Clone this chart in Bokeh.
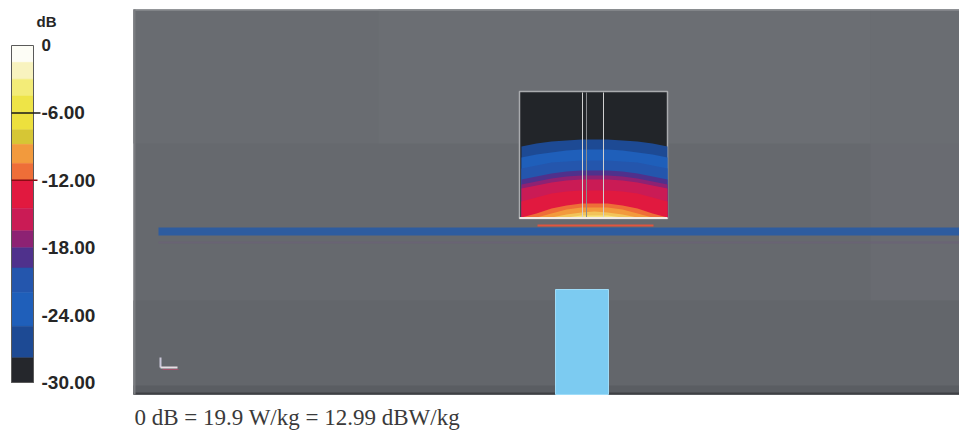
from bokeh.plotting import figure
from bokeh.models import Range1d
from bokeh.embed import file_html
from bokeh.resources import INLINE
from bokeh.core.properties import value

# ---------------- data ----------------
# colour scale in dB
cbar_ticks = [0, -6, -12, -18, -24, -30]
cbar_tick_labels = ["0", "-6.00", "-12.00", "-18.00", "-24.00", "-30.00"]
band_top = [0, -1.5, -3, -4.5, -6, -7.5, -8.8, -10.5, -12, -14.5, -16.5, -18, -19.8, -22, -25, -27.8]
band_bottom = [-1.5, -3, -4.5, -6, -7.5, -8.8, -10.5, -12, -14.5, -16.5, -18, -19.8, -22, -25, -27.8, -30]
band_color = ["#fdfdf6", "#f8f3bf", "#f3ec78", "#eee447", "#ede03d", "#d6c635",
              "#f29a3d", "#ee6e38", "#e1193f", "#ca1b55", "#8d2273", "#4f318c",
              "#2456ad", "#1f5fba", "#1d4a94", "#25272c"]
marked_levels = [-6, -12]
marked_colors = ["#1a1a1a", "#8a0c14"]

# SAR field in the phantom window: y (pixel rows) of each iso-dB contour
field_x = [521, 536, 551, 566, 581, 594, 607, 622, 637, 652, 667]
field_levels = [-27.8, -25, -22, -19.8, -18, -16.5, -14.5, -12, -10.5, -8.8, -6]
field_contours = [
    [146, 143, 141, 140, 139, 139, 139, 140, 141, 143, 146],
    [157, 154, 152, 150, 149, 149, 149, 150, 152, 154, 157],
    [168, 165, 162, 161, 160, 160, 160, 161, 162, 165, 168],
    [179, 176, 173, 171, 170, 170, 170, 171, 173, 176, 179],
    [184, 181, 178, 176, 175, 175, 175, 176, 178, 181, 184],
    [188, 185, 182, 180, 179, 179, 179, 180, 182, 185, 188],
    [201, 197, 193, 191, 190, 190, 190, 191, 193, 197, 201],
    [217, 213, 208, 205, 203, 203, 203, 205, 208, 213, 217],
    [217, 217, 213, 209, 207, 207, 207, 209, 213, 217, 217],
    [217, 217, 217, 214, 212, 211, 212, 214, 217, 217, 217],
    [217, 217, 217, 217, 215, 215, 215, 217, 217, 217, 217],
]
caption = "0 dB = 19.9 W/kg = 12.99 dBW/kg"

# ---------------- figure ----------------
W, H = 959, 432
p = figure(width=W, height=H, output_backend="svg", toolbar_location=None,
           x_range=Range1d(0, W), y_range=Range1d(H, 0),
           x_axis_location=None, y_axis_location=None, min_border=0,
           background_fill_color="white", border_fill_color="white")
p.outline_line_color = None
p.xgrid.visible = False
p.ygrid.visible = False
# dB range for colour bar: 0 dB at row 45, -30 dB at row 382
k = 30.0 / (382 - 45)
p.extra_y_ranges = {"db": Range1d(-30 - (H - 382) * k, 45 * k)}

# gray scene background
p.quad(left=133, right=960, top=9, bottom=394, fill_color="#66696e", line_color=None)
p.quad(left=133, right=960, top=9, bottom=143, fill_color="#696c71", line_color=None)
p.quad(left=378, right=870, top=9, bottom=143, fill_color="#6b6e73", line_color=None)
p.quad(left=870, right=960, top=9, bottom=394, fill_color="#6b6e73", line_color=None, fill_alpha=0.5)
p.quad(left=133, right=960, top=300, bottom=394, fill_color="#63666b", line_color=None)
p.quad(left=133, right=960, top=385, bottom=394, fill_color="#5a5d62", line_color=None)
p.segment(x0=133, y0=9.5, x1=960, y1=9.5, line_color="#9a9c9f", line_width=1)
p.segment(x0=133, y0=393, x1=960, y1=393, line_color="#3e4044", line_width=2)
p.segment(x0=134, y0=9, x1=134, y1=394, line_color="#7a7c80", line_width=2)

# blue horizontal strip and faint line below
p.segment(x0=158, y0=231, x1=960, y1=231, line_color="#2e5c9f", line_width=8)
p.segment(x0=158, y0=242, x1=960, y1=242, line_color="#6b5f78", line_width=2, line_alpha=0.6)

# light blue block (antenna)
p.quad(left=555, right=608, top=289, bottom=394, fill_color="#7ccbf1", line_color="#9fdcf8", line_width=1)

# small axis marker
p.segment(x0=[160, 160], y0=[357, 367], x1=[160, 177], y1=[367, 367],
          line_color=["#c9c6d8", "#e8dde4"], line_width=2)
p.segment(x0=162, y0=369, x1=178, y1=369, line_color="#b84a6a", line_width=1, line_alpha=0.7)

# phantom window with the SAR field (each band painted down to the bottom -> no seams)
p.quad(left=519, right=667, top=91, bottom=218, fill_color="#222529", line_color="#a9abae", line_width=1.5)
bottom_row = [217] * len(field_x)
heat_cols = [band_color[14], band_color[13], band_color[12], band_color[11],
             band_color[10], band_color[9], band_color[8], band_color[7], band_color[6],
             "#f2c45a", "#f6e27a"]
for contour, col in zip(field_contours, heat_cols):
    p.varea(x=field_x, y1=contour, y2=bottom_row, fill_color=col)
p.segment(x0=[582, 586, 603], y0=[92, 92, 92], x1=[582, 586, 603], y1=[217, 217, 217],
          line_color=["#d0d0d0", "#8a8c90", "#d0d0d0"], line_width=1)
p.segment(x0=519, y0=217.5, x1=667, y1=217.5, line_color="#f4ece4", line_width=2)
p.segment(x0=537, y0=225, x1=653, y1=225, line_color="#e0553f", line_width=2)

# colour bar
p.quad(left=11, right=33, top=band_top, bottom=band_bottom, fill_color=band_color,
       line_color=band_color, line_width=0.5, y_range_name="db")
p.quad(left=11, right=33, top=0, bottom=-30, fill_color=None, line_color="#5a5a5a",
       line_width=1, y_range_name="db")
p.segment(x0=11, y0=marked_levels, x1=[40, 37], y1=marked_levels, line_color=marked_colors,
          line_width=1.5, y_range_name="db")
p.text(x=41, y=cbar_ticks[1:], text=cbar_tick_labels[1:], text_font=value("Liberation Sans"),
       text_font_style="bold", text_font_size="19px", text_color="#262626",
       text_baseline="middle", text_align="left", y_range_name="db")
p.text(x=[41], y=[44], text=[cbar_tick_labels[0]], text_font=value("Liberation Sans"),
       text_font_style="bold", text_font_size="17px", text_color="#262626",
       text_baseline="middle", text_align="left")
p.text(x=[36], y=[21], text=["dB"], text_font=value("Liberation Sans"),
       text_font_style="bold", text_font_size="15px", text_color="#262626",
       text_baseline="middle", text_align="left")

# caption
p.text(x=[134], y=[417], text=[caption], text_font=value("Liberation Serif"),
       text_font_size="23px", text_color="#3a3a3a", text_baseline="alphabetic", text_align="left")

open("out.html", "w").write(file_html(p, INLINE))
